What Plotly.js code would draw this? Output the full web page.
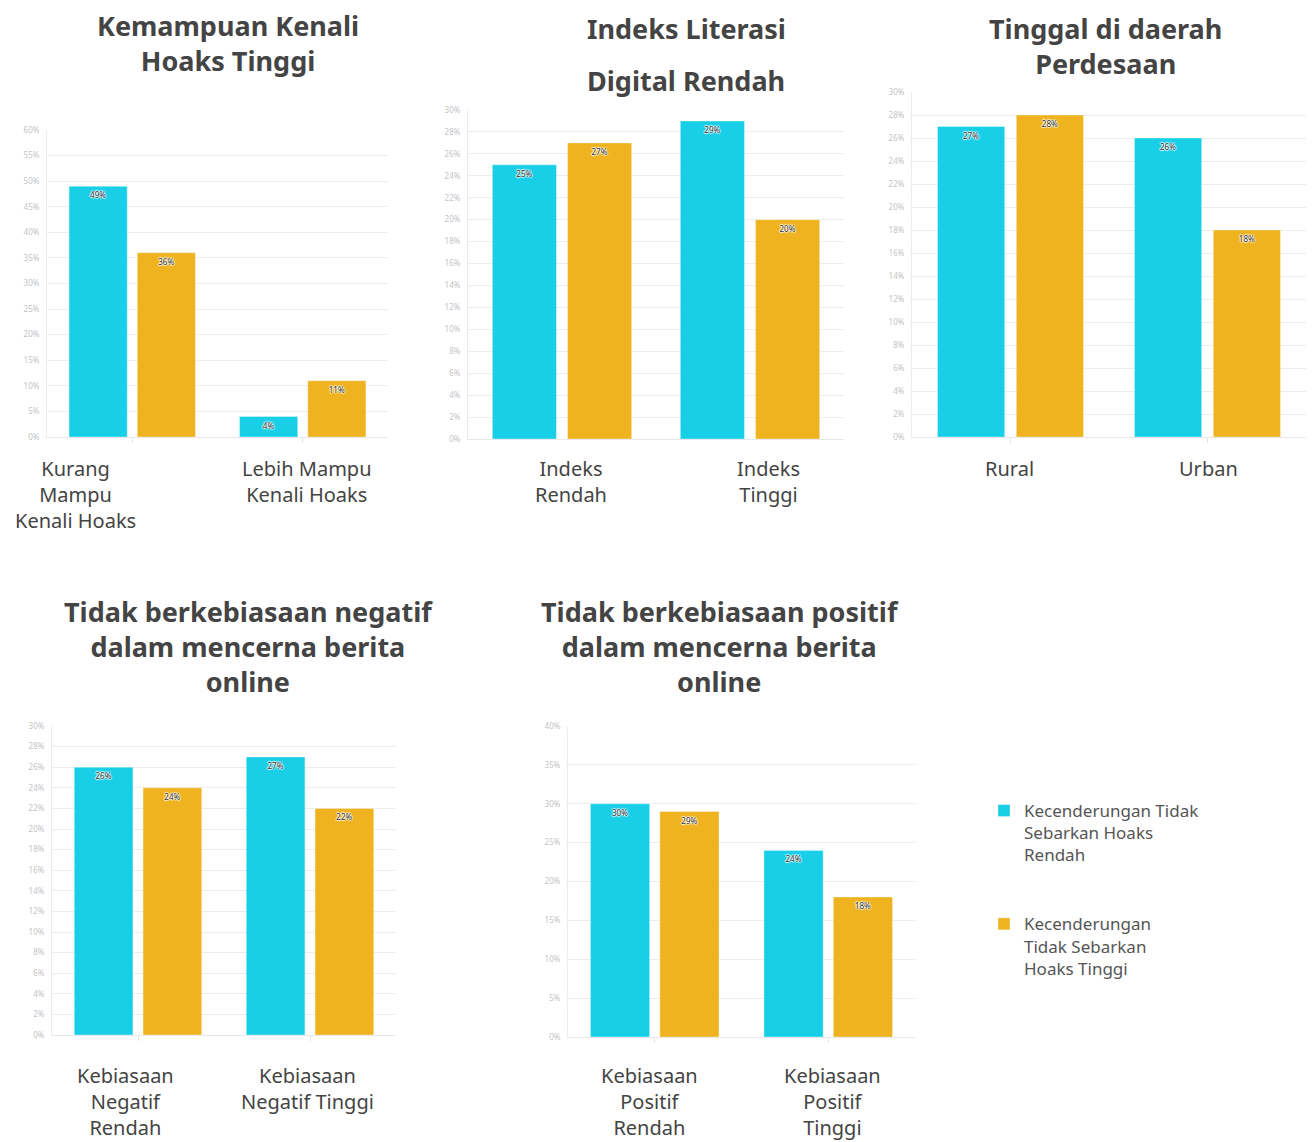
<!DOCTYPE html>
<html><head><meta charset="utf-8">
<script src="https://cdn.plot.ly/plotly-3.0.1.min.js"></script>
<style>html,body{margin:0;padding:0;background:#fff}#chart{width:1313px;height:1142px}</style>
</head><body><div id="chart"></div>
<script>
// ---- data ----
const seriesNames = ["Kecenderungan Tidak<br>Sebarkan Hoaks<br>Rendah", "Kecenderungan<br>Tidak Sebarkan<br>Hoaks Tinggi"];

const titles = [
  "Kemampuan Kenali<br>Hoaks Tinggi",
  "Indeks Literasi|Digital Rendah",
  "Tinggal di daerah<br>Perdesaan",
  "Tidak berkebiasaan negatif<br>dalam mencerna berita<br>online",
  "Tidak berkebiasaan positif<br>dalam mencerna berita<br>online"
];

const cats1 = ["Kurang<br>Mampu<br>Kenali Hoaks", "Lebih Mampu<br>Kenali Hoaks"];
const low1 = [49, 4];
const high1 = [36, 11];

const cats2 = ["Indeks<br>Rendah", "Indeks<br>Tinggi"];
const low2 = [25, 29];
const high2 = [27, 20];

const cats3 = ["Rural", "Urban"];
const low3 = [27, 26];
const high3 = [28, 18];

const cats4 = ["Kebiasaan<br>Negatif<br>Rendah", "Kebiasaan<br>Negatif Tinggi"];
const low4 = [26, 27];
const high4 = [24, 22];

const cats5 = ["Kebiasaan<br>Positif<br>Rendah", "Kebiasaan<br>Positif<br>Tinggi"];
const low5 = [30, 24];
const high5 = [29, 18];

const yMax = [60, 30, 30, 30, 40];
const yStep = [5, 2, 2, 2, 5];

// ---- layout helpers ----
const W = 1313, H = 1142;
const COL_LOW = "#19CFE8", COL_HIGH = "#EFB320";
const FONT = "Noto Sans, Open Sans, sans-serif";

// px: plot area x-extent, py: plot area y-extent, title: [centerX, centerY],
// labelTop: top of category labels, labelShift: horizontal offset of each category label
const panels = [
  {cats: cats1, low: low1, high: high1, px: [47, 388], py: [130, 437], title: [228, 42.5], labelTop: 453, labelShift: [-57, 4], xticks: true},
  {cats: cats2, low: low2, high: high2, px: [468, 844], py: [110, 439], title: [686, null], labelTop: 453, labelShift: [9, 18], xticks: false},
  {cats: cats3, low: low3, high: high3, px: [912, 1306], py: [92, 437], title: [1105, 45.5], labelTop: 453, labelShift: [-1, 1], xticks: true},
  {cats: cats4, low: low4, high: high4, px: [52, 396], py: [726, 1035], title: [249, 646], labelTop: 1060, labelShift: [-13, -3], xticks: true},
  {cats: cats5, low: low5, high: high5, px: [568, 915], py: [726, 1037], title: [720, 646], labelTop: 1060, labelShift: [-5, 4], xticks: true}
];

const textShadow = "1px 0 1px #fff, -1px 0 1px #fff, 0 1px 1px #fff, 0 -1px 1px #fff";

const data = [];
const layout = {
  width: W, height: H,
  margin: {l: 0, r: 0, t: 0, b: 0},
  paper_bgcolor: "#fff", plot_bgcolor: "#fff",
  barmode: "group", bargap: 0.2, bargroupgap: 0.147,
  font: {family: FONT, color: "#444"},
  showlegend: true,
  legend: {
    x: 984 / W, y: 1 - 793 / H, xanchor: "left", yanchor: "top",
    font: {family: FONT, size: 17, color: "#555"},
    valign: "top", tracegroupgap: 44, traceorder: "grouped",
    bgcolor: "rgba(0,0,0,0)"
  },
  annotations: []
};

panels.forEach((p, i) => {
  const n = i + 1;
  const xa = "x" + (n === 1 ? "" : n), ya = "y" + (n === 1 ? "" : n);
  const common = {
    type: "bar", x: p.cats, xaxis: xa, yaxis: ya,
    texttemplate: "%{y:.0f}%", textposition: "inside", insidetextanchor: "end",
    textangle: 0, constraintext: "none", cliponaxis: false,
    textfont: {family: FONT, size: 8, color: "#333", shadow: textShadow},
    hoverinfo: "skip"
  };
  data.push(Object.assign({}, common, {
    y: p.low, name: seriesNames[0], legendgroup: "low", showlegend: i === 0,
    marker: {color: COL_LOW, line: {color: "rgba(255,255,255,0.35)", width: 1}}
  }));
  data.push(Object.assign({}, common, {
    y: p.high, name: seriesNames[1], legendgroup: "high", showlegend: i === 0,
    marker: {color: COL_HIGH, line: {color: "rgba(255,255,255,0.35)", width: 1}}
  }));

  layout["xaxis" + (n === 1 ? "" : n)] = {
    domain: [p.px[0] / W, p.px[1] / W], anchor: ya,
    type: "category", range: [-0.5, p.cats.length - 0.5], autorange: false,
    showgrid: false, zeroline: false,
    showline: true, linecolor: "#e8e8e8", linewidth: 1,
    ticks: p.xticks ? "outside" : "", ticklen: 5, tickcolor: "#e3e3e3",
    showticklabels: false, fixedrange: true
  };
  layout["yaxis" + (n === 1 ? "" : n)] = {
    domain: [1 - p.py[1] / H, 1 - p.py[0] / H], anchor: xa,
    range: [0, yMax[i]], autorange: false, dtick: yStep[i], tick0: 0, ticksuffix: "%",
    showgrid: true, gridcolor: "#ececec", gridwidth: 1,
    zeroline: false, showline: true, linecolor: "#ececec",
    ticks: "", tickfont: {family: FONT, size: 8, color: "#c4c4c4"},
    ticklabelstandoff: 5, fixedrange: true
  };

  // category labels, tied to the category positions of the x axis
  p.cats.forEach((c, k) => {
    layout.annotations.push({
      text: c, xref: xa, yref: "paper", x: c, y: 1 - p.labelTop / H,
      xanchor: "center", yanchor: "top", align: "center", showarrow: false,
      xshift: p.labelShift[k],
      font: {family: FONT, size: 20, color: "#444"}
    });
  });

  const tfont = {family: FONT, size: 27, color: "#444", weight: "bold"};
  if (titles[i].indexOf("|") >= 0) {
    const parts = titles[i].split("|");
    layout.annotations.push({text: parts[0], xref: "paper", yref: "paper", x: p.title[0] / W, y: 1 - 28 / H,
      xanchor: "center", yanchor: "middle", showarrow: false, font: tfont});
    layout.annotations.push({text: parts[1], xref: "paper", yref: "paper", x: p.title[0] / W, y: 1 - 80 / H,
      xanchor: "center", yanchor: "middle", showarrow: false, font: tfont});
  } else {
    layout.annotations.push({text: titles[i], xref: "paper", yref: "paper", x: p.title[0] / W, y: 1 - p.title[1] / H,
      xanchor: "center", yanchor: "middle", showarrow: false, font: tfont});
  }
});

Plotly.newPlot("chart", data, layout, {displayModeBar: false, staticPlot: true});
</script>
</body></html>
